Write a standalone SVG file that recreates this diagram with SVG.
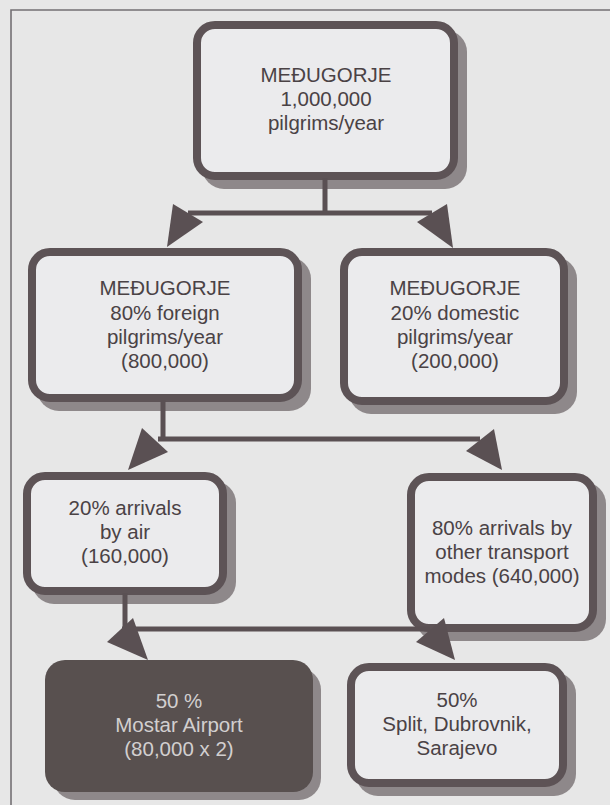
<svg xmlns="http://www.w3.org/2000/svg" width="610" height="805" viewBox="0 0 610 805">
<style>
.bg{fill:#e7e7e7}
.frame{stroke:#747074;stroke-width:1.6;fill:none}
.shadow{fill:#8e888a}
.box{fill:#ebebed;stroke:#5d5356;stroke-width:8}
.dark{fill:#58504f}
.t{font-family:"Liberation Sans",Arial,Helvetica,sans-serif;font-size:20.5px;fill:#4a4245;text-anchor:middle}
.tl{fill:#d2cfcf}
.c{stroke:#5a5053;stroke-width:5;fill:none}
.ah{fill:#5a5053}
</style>
<rect class="bg" x="0" y="0" width="610" height="805"/>
<path class="frame" d="M11,805 V10 H610"/>

<g id="n1">
<rect class="shadow" x="202" y="30" width="265" height="159" rx="22"/>
<rect class="box" x="197" y="25" width="257" height="151" rx="18"/>
<text class="t" x="326" y="82">MEĐUGORJE</text>
<text class="t" x="326" y="106">1,000,000</text>
<text class="t" x="326" y="130">pilgrims/year</text>
</g>

<g id="n2">
<rect class="shadow" x="37" y="257" width="274" height="154" rx="22"/>
<rect class="box" x="32" y="252" width="266" height="146" rx="18"/>
<text class="t" x="165" y="295">MEĐUGORJE</text>
<text class="t" x="165" y="320">80% foreign</text>
<text class="t" x="165" y="344">pilgrims/year</text>
<text class="t" x="165" y="368">(800,000)</text>
</g>

<g id="n3">
<rect class="shadow" x="349" y="257" width="228" height="157" rx="22"/>
<rect class="box" x="344" y="252" width="220" height="149" rx="18"/>
<text class="t" x="455" y="295">MEĐUGORJE</text>
<text class="t" x="455" y="320">20% domestic</text>
<text class="t" x="455" y="344">pilgrims/year</text>
<text class="t" x="455" y="368">(200,000)</text>
</g>

<g id="n4">
<rect class="shadow" x="32" y="481" width="204" height="123" rx="22"/>
<rect class="box" x="27" y="476" width="196" height="115" rx="18"/>
<text class="t" x="125" y="515">20% arrivals</text>
<text class="t" x="125" y="539">by air</text>
<text class="t" x="125" y="563">(160,000)</text>
</g>

<g id="n5">
<rect class="shadow" x="416" y="482" width="190" height="159" rx="22"/>
<rect class="box" x="411" y="477" width="182" height="151" rx="18"/>
<text class="t" x="502" y="535">80% arrivals by</text>
<text class="t" x="502" y="559">other transport</text>
<text class="t" x="502" y="583">modes (640,000)</text>
</g>

<g id="n6">
<rect class="shadow" x="53" y="668" width="268" height="132" rx="22"/>
<rect class="dark" x="45" y="660" width="268" height="132" rx="20"/>
<text class="t tl" x="179" y="708">50 %</text>
<text class="t tl" x="179" y="732">Mostar Airport</text>
<text class="t tl" x="179" y="756">(80,000 x 2)</text>
</g>

<g id="n7">
<rect class="shadow" x="356" y="672" width="220" height="124" rx="22"/>
<rect class="box" x="351" y="667" width="212" height="116" rx="18"/>
<text class="t" x="457" y="707">50%</text>
<text class="t" x="457" y="731">Split, Dubrovnik,</text>
<text class="t" x="457" y="755">Sarajevo</text>
</g>

<g id="connectors">
<path class="c" d="M325,178 V213 M188,213 H432"/>
<polygon class="ah" points="167,247 203,222 173,204"/>
<polygon class="ah" points="453,248 417,222 447,204"/>
<path class="c" d="M163,400 V439 M158,439 H480"/>
<polygon class="ah" points="128,470 168,452 142,428"/>
<polygon class="ah" points="502,470 466,451 494,429"/>
<path class="c" d="M125,593 V629 M122,629 H430"/>
<polygon class="ah" points="148,660 107,642 133,618"/>
<polygon class="ah" points="455,660 416,642 444,618"/>
</g>
</svg>
